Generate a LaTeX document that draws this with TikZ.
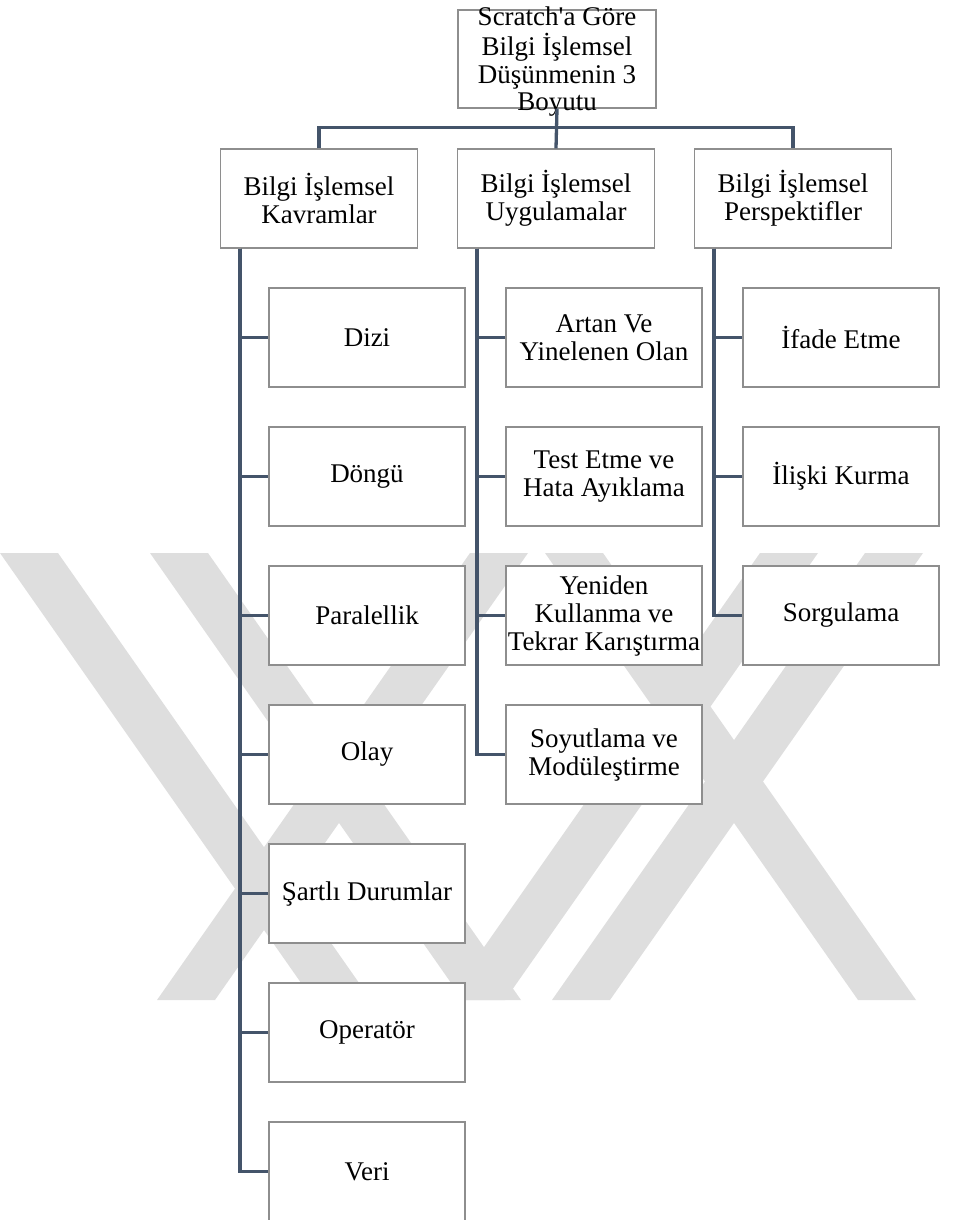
\documentclass[tikz,border=0pt]{standalone}
\usepackage{fontspec}
\setmainfont{Liberation Serif}[Ligatures=TeXOff]
\usetikzlibrary{positioning}

\definecolor{linkcol}{HTML}{44546A}
\definecolor{framecol}{HTML}{8E8E8E}
\definecolor{wmcol}{RGB}{222,222,222}

\tikzset{
  box/.style={draw=framecol, line width=1.3pt, fill=white, rectangle,
    minimum width=197pt, minimum height=99pt, inner sep=0pt, align=center,
    font=\fontsize{27}{28}\selectfont},
  child/.style={box, minimum width=196pt},
  conn/.style={draw=linkcol, line width=3.3pt},
  band/.style={fill=wmcol}
}

% "\" band starting at x=#1 on the top edge, "/" band likewise
\newcommand{\bandDown}[1]{\fill[band] (#1,553) -- ++(58,0) -- ++(313,447) -- ++(-58,0) -- cycle;}
\newcommand{\bandUp}[1]{\fill[band] (#1,553) -- ++(58,0) -- ++(-313,447) -- ++(-58,0) -- cycle;}

\begin{document}
\begin{tikzpicture}[x=1pt, y=-1pt]
\useasboundingbox (0,0) rectangle (979,1220);

% watermark
\begin{scope}
  \clip (0,553) rectangle (979,1000);
  \bandDown{0}
  \bandDown{150}
  \bandUp{470}
  \bandDown{545}
  \bandUp{760}
  \bandUp{865}
\end{scope}

% root: its four lines run slightly past the frame
\node[box, minimum width=198pt, minimum height=98pt,
      font=\fontsize{27}{27.3}\selectfont] (root) at (557,59)
  {\raisebox{-19.5pt}{\smash{\begin{tabular}{@{}c@{}}Scratch'a Göre\\Bilgi İşlemsel\\Düşünmenin 3\\Boyutu\end{tabular}}}};

% second level
\node[box] (k1) at (319,198.5) {Bilgi İşlemsel\\Kavramlar};
\node[box] (k2) at (556,198.5) {Bilgi İşlemsel\\Uygulamalar};
\node[box] (k3) at (793,198.5) {Bilgi İşlemsel\\Perspektifler};

% concepts
\node[child] (a1) at (367,337.5) {Dizi};
\node[child] (a2) at (367,476.5) {Döngü};
\node[child] (a3) at (367,615.5) {Paralellik};
\node[child] (a4) at (367,754.5) {Olay};
\node[child] (a5) at (367,893.5) {Şartlı Durumlar};
\node[child] (a6) at (367,1032.5) {Operatör};
\node[child] (a7) at (367,1171.5) {Veri};

% practices
\node[child] (b1) at (604,337.5) {Artan Ve\\Yinelenen Olan};
\node[child] (b2) at (604,476.5) {Test Etme ve\\Hata Ayıklama};
\node[child] (b3) at (604,615.5) {Yeniden\\Kullanma ve\\Tekrar Karıştırma};
\node[child] (b4) at (604,754.5) {Soyutlama ve\\Modüleştirme};

% perspectives
\node[child] (c1) at (841,337.5) {İfade Etme};
\node[child] (c2) at (841,476.5) {İlişki Kurma};
\node[child] (c3) at (841,615.5) {Sorgulama};

% root to second level
\draw[conn] (root.south) -- (k2.north);
\draw[conn] (k1.north) -- ++(0,-20.5) -| (k3.north);

% second level to leaves
\foreach \n in {a1,a2,a3,a4,a5,a6,a7}
  \draw[conn] ([xshift=20pt]k1.south west) |- (\n.west);
\foreach \n in {b1,b2,b3,b4}
  \draw[conn] ([xshift=20pt]k2.south west) |- (\n.west);
\foreach \n in {c1,c2,c3}
  \draw[conn] ([xshift=20pt]k3.south west) |- (\n.west);
\end{tikzpicture}
\end{document}
